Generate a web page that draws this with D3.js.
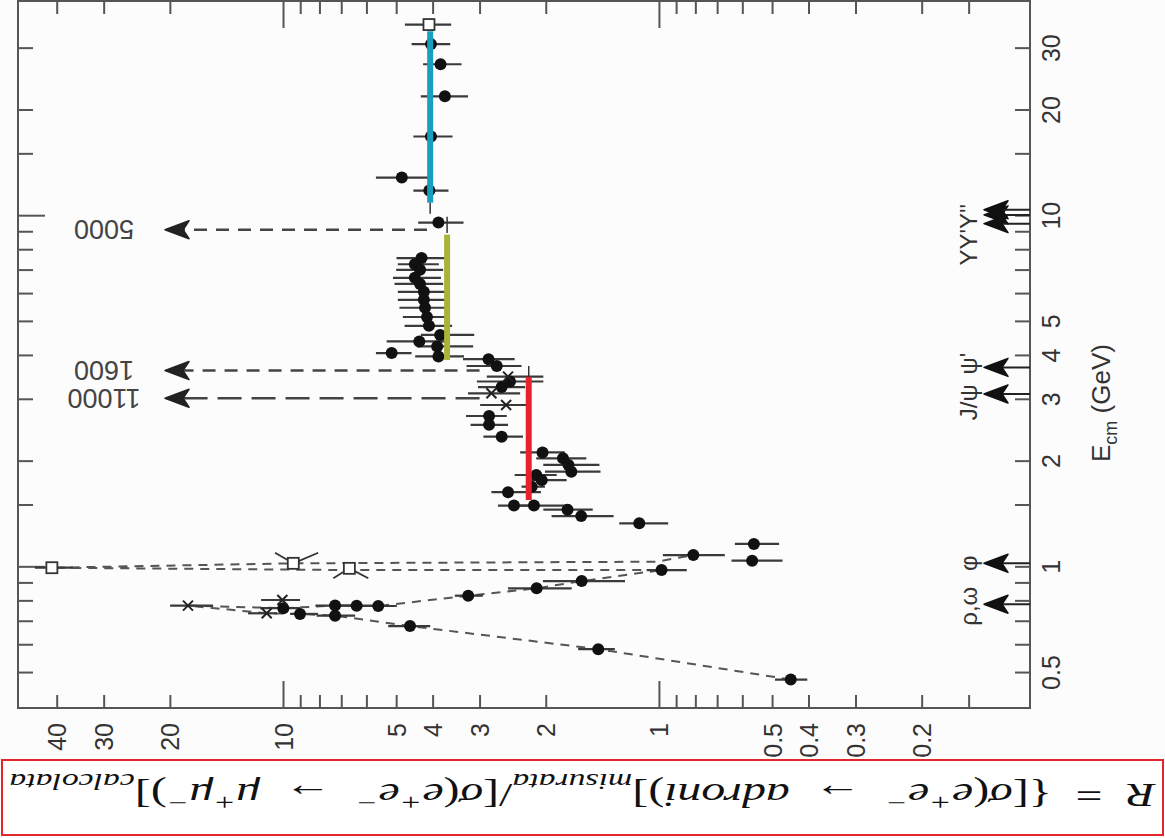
<!DOCTYPE html>
<html>
<head>
<meta charset="utf-8">
<script src="https://cdn.jsdelivr.net/npm/d3@7"></script>
<style>
  body { margin: 0; background: #fcfcfc; }
  text { font-family: "Liberation Sans", Arial, sans-serif; }
  text.formula { font-family: "Liberation Serif", "DejaVu Serif", serif; }
</style>
</head>
<body>
<script>
// ticks
const rTicks = [40, 30, 20, 10, 9, 8, 7, 6, 5, 4, 3, 2, 1, 0.9, 0.8, 0.7, 0.6, 0.5, 0.4, 0.3, 0.2, 0.15];
const rTickLabels = [40, 30, 20, 10, 5, 4, 3, 2, 1, 0.5, 0.4, 0.3, 0.2];
const eTicks = [0.5, 0.6, 0.7, 0.8, 0.9, 1, 1.5, 2, 3, 4, 5, 6, 7, 8, 9, 10, 15, 20, 30];
const eTickLabels = [0.5, 1, 2, 3, 4, 5, 10, 20, 30];
const majorTicks = [1, 10];

// filled circles: energy (GeV), R, error bar ends
const dotE = [30.7, 26.9, 21.8, 16.75, 12.8, 11.75, 9.53,
  7.55, 7.25, 6.99, 6.63, 6.37, 6.05, 5.74, 5.45, 5.13, 4.84, 4.56, 4.37, 4.23, 4.05, 3.96,
  3.89, 3.72, 3.36, 3.24, 2.68, 2.53, 2.34, 2.11, 2.03, 1.944, 1.86, 1.82, 1.76, 1.686, 1.626, 1.49, 1.49, 1.45, 1.39, 1.326,
  1.158, 1.077, 1.038, 0.976, 0.908, 0.866, 0.825, 0.771, 0.7727, 0.773, 0.760, 0.732, 0.7235, 0.676, 0.581, 0.476];
const dotR = [4.04, 3.81, 3.71, 4.04, 4.83, 4.08, 3.86,
  4.28, 4.46, 4.32, 4.46, 4.32, 4.22, 4.22, 4.19, 4.14, 4.09, 3.82, 4.34, 3.89, 5.14, 3.86,
  2.84, 2.70, 2.49, 2.62, 2.83, 2.83, 2.62, 2.04, 1.80, 1.74, 1.71, 2.12, 2.05, 2.18, 2.52, 2.43, 2.15, 1.75, 1.61, 1.128,
  0.559, 0.81, 0.565, 0.984, 1.605, 2.115, 3.216, 5.58, 6.37, 7.27, 9.98, 9.01, 7.27, 4.594, 1.45, 0.446];
const dotRMax = [4.55, 4.24, 4.30, 4.50, 5.66, 4.50, 4.37,
  4.99, 4.95, 5.0, 5.1, 5.05, 4.95, 4.95, 4.9, 4.8, 4.75, 4.3, 5.3, 4.4, 5.66, 4.45,
  3.32, 3.25, 3.05, 3.03, 3.26, 3.17, 2.93, 2.34, 2.12, 2.03, 2.01, 2.42, 2.25, 2.32, 2.79, 2.68, 2.34, 2.03, 1.93, 1.275,
  0.628, 0.976, 0.641, 1.078, 2.035, 2.52, 3.49, 6.24, 7.14, 8.2, 11.5, 9.57, 8.14, 5.25, 1.64, 0.491];
const dotRMin = [3.59, 3.35, 3.22, 3.54, 4.11, 3.63, 3.31,
  3.71, 3.85, 3.75, 3.8, 3.75, 3.7, 3.65, 3.7, 3.6, 3.55, 3.1, 3.7, 3.12, 4.55, 3.3,
  2.42, 2.32, 2.03, 2.27, 2.54, 2.52, 2.30, 1.78, 1.56, 1.44, 1.43, 1.87, 1.76, 2.01, 2.06, 2.16, 1.72, 1.50, 1.32, 0.945,
  0.479, 0.668, 0.469, 0.843, 1.231, 1.706, 2.94, 4.98, 5.57, 6.55, 9.0, 8.07, 6.43, 4.06, 1.31, 0.403];

// crosses
const crossE = [3.47, 3.11, 2.88, 0.802, 0.773, 0.735];
const crossR = [2.52, 2.79, 2.55, 10.04, 17.9, 11.05];
const crossRMax = [2.87, 3.22, 2.99, 11.44, 19.97, 12.39];
const crossRMin = [2.03, 2.34, 2.25, 9.01, 15.36, 10.38];

// open squares
const squareE = [34.9, 0.991, 1.020, 0.987];
const squareR = [4.09, 41.2, 9.39, 6.66];
const squareRMax = [4.74, 45.7, null, null];
const squareRMin = [3.57, 36.2, null, null];

// slanted bars on the phi squares
const wingE = [1.020, 0.987];
const wingR = [9.39, 6.66];
const wingTipE = [1.093, 0.925];
const wingTipRLeft = [10.5, 7.35];
const wingTipRRight = [8.06, 5.93];

// dashed resonance curve (rho, omega, phi)
const curveE = [0.476, 0.581, 0.676, 0.7235, 0.732, 0.735, 0.773, 0.760, 0.773, 0.771, 0.825, 0.866, 0.908, 0.976, 0.976, 0.991, 1.020, 1.031, 1.077];
const curveR = [0.446, 1.45, 4.594, 7.27, 9.01, 11.05, 17.9, 9.98, 7.27, 5.58, 3.216, 2.115, 1.605, 0.984, 6.66, 41.2, 9.39, 1.012, 0.81];

// off-scale peaks
const peakE = [9.09, 3.61, 3.01];
const peakLabels = ["5000", "1600", "11000"];
const peakFromR = [4.14, 3.0, 3.0];
const peakTipR = [20.6, 20.6, 20.6];

// parton model levels
const levelR = [4.06, 3.66, 2.22];
const levelELow = [10.85, 3.87, 1.545];
const levelEHigh = [33.4, 8.8, 3.46];
const levelColors = ["#1b9dbf", "#a9b23a", "#e8212a"];
// thin stubs of the underlying theory lines
const stubR = [4.06, 3.66, 2.22];
const stubELow = [10.1, 8.9, 3.46];
const stubEHigh = [10.85, 9.9, 3.72];

// resonance markers
const resonanceE = [0.78, 1.02, 3.097, 3.686, 9.46, 10.02, 10.36];
const resonanceLabels = ["ρ,ω", "φ", "J/ψ", "ψ'", "ΥΥ'Υ''"];
const resonanceLabelE = [0.77, 1.02, 2.93, 3.78, 8.8];

const width = 1165, height = 838;
const svg = d3.select("body").append("svg")
    .attr("width", width)
    .attr("height", height);

svg.append("rect").attr("width", width).attr("height", height).attr("fill", "#fcfcfc");

const x = d3.scaleLog().domain([50.7, 0.103]).range([18, 1030]);
const y = d3.scaleLog().domain([0.395, 41]).range([708, 0]);

const axisColor = "#555";

//axes (ticks on all four sides, pointing in)

function styleAxis(g) {
  g.select(".domain").remove();
  g.selectAll(".tick line").attr("stroke", axisColor).attr("stroke-width", 2);
  return g;
}

let axisB = svg.append("g").attr("transform", "translate(0,708)")
  .call(d3.axisBottom(x).tickValues(rTicks).tickSizeInner(-13).tickSizeOuter(0)
    .tickFormat(d => rTickLabels.includes(d) ? String(d) : ""));
styleAxis(axisB);
axisB.selectAll(".tick line").filter(d => majorTicks.includes(d)).attr("y2", -27);
axisB.selectAll(".tick text")
  .attr("transform", "rotate(-90)")
  .attr("x", -15).attr("y", 0).attr("dy", "0.36em")
  .attr("text-anchor", "end")
  .attr("font-size", 25)
  .attr("fill", "#333");

let axisT = svg.append("g").attr("transform", "translate(0,1)")
  .call(d3.axisTop(x).tickValues(rTicks).tickSizeInner(-13).tickSizeOuter(0).tickFormat(""));
styleAxis(axisT);
axisT.selectAll(".tick line").filter(d => majorTicks.includes(d)).attr("y2", 27);

let axisR = svg.append("g").attr("transform", "translate(1030,0)")
  .call(d3.axisRight(y).tickValues(eTicks).tickSizeInner(-15).tickSizeOuter(0)
    .tickFormat(d => eTickLabels.includes(d) ? String(d) : ""));
styleAxis(axisR);
axisR.selectAll(".tick text")
  .attr("transform", "rotate(-90)")
  .attr("x", 0).attr("y", 30).attr("dy", 0)
  .attr("text-anchor", "middle")
  .attr("font-size", 25)
  .attr("fill", "#333");

let axisL = svg.append("g").attr("transform", "translate(18,0)")
  .call(d3.axisLeft(y).tickValues(eTicks).tickSizeInner(-15).tickSizeOuter(0).tickFormat(""));
styleAxis(axisL);
axisL.selectAll(".tick line").filter(d => majorTicks.includes(d)).attr("x2", 27);

//frame

svg.append("rect")
  .attr("x", 18).attr("y", 1)
  .attr("width", 1012).attr("height", 707)
  .attr("fill", "none")
  .attr("stroke", axisColor)
  .attr("stroke-width", 2);

//E axis title

let eTitle = svg.append("text")
  .attr("transform", "translate(1110,462) rotate(-90)")
  .attr("font-size", 26)
  .attr("fill", "#333");
eTitle.append("tspan").text("E");
eTitle.append("tspan").text("cm").attr("font-size", 18).attr("dy", 7);
eTitle.append("tspan").text(" (GeV)").attr("dy", -7).style("white-space", "pre");

//dashed curve

let curve = curveE.map((e, i) => ({ e: e, r: curveR[i] }));
svg.append("path")
  .datum(curve)
  .attr("d", d3.line().x(d => x(d.r)).y(d => y(d.e)))
  .attr("fill", "none")
  .attr("stroke", "#555")
  .attr("stroke-width", 2)
  .attr("stroke-dasharray", "9,7");

//error bars

function errBars(cls, es, rmax, rmin) {
  svg.selectAll("line." + cls)
    .data(es.map((e, i) => ({ e: e, a: rmax[i], b: rmin[i] })).filter(d => d.a != null))
    .enter()
    .append("line")
    .attr("class", cls)
    .attr("x1", d => x(d.a))
    .attr("x2", d => x(d.b))
    .attr("y1", d => y(d.e))
    .attr("y2", d => y(d.e))
    .attr("stroke", "#3a3a3a")
    .attr("stroke-width", 2.2);
}
errBars("errdot", dotE, dotRMax, dotRMin);
errBars("errcross", crossE, crossRMax, crossRMin);
errBars("errsq", squareE, squareRMax, squareRMin);

//slanted bars on phi squares

wingE.forEach((e, i) => {
  [wingTipRLeft[i], wingTipRRight[i]].forEach(r => {
    svg.append("line")
      .attr("x1", x(wingR[i])).attr("y1", y(e))
      .attr("x2", x(r)).attr("y2", y(wingTipE[i]))
      .attr("stroke", "#333").attr("stroke-width", 1.8);
  });
});

//off-scale peak arrows

const arrowHead = "M0,0L24,-9L18,0L24,9Z";
const peakDash = ["13,9", "13,9", "24,10"];

peakE.forEach((e, i) => {
  svg.append("line")
    .attr("x1", x(peakFromR[i])).attr("x2", x(peakTipR[i]) + 16)
    .attr("y1", y(e)).attr("y2", y(e))
    .attr("stroke", "#444").attr("stroke-width", 2.5)
    .attr("stroke-dasharray", peakDash[i]);
  svg.append("path")
    .attr("d", arrowHead)
    .attr("transform", `translate(${x(peakTipR[i])},${y(e)})`)
    .attr("fill", "#222")
    .attr("stroke", "#222")
    .attr("stroke-width", 1.5)
    .attr("stroke-linejoin", "round");
  svg.append("text")
    .attr("transform", `translate(${x(peakTipR[i]) - 61},${y(e)}) rotate(180)`)
    .attr("text-anchor", "middle")
    .attr("dy", "0.36em")
    .attr("font-size", 27)
    .attr("fill", "#444")
    .text(peakLabels[i]);
});

//markers

svg.selectAll("circle.dot")
  .data(dotE.map((e, i) => ({ e: e, r: dotR[i] })))
  .enter()
  .append("circle")
  .attr("class", "dot")
  .attr("cx", d => x(d.r))
  .attr("cy", d => y(d.e))
  .attr("r", 6)
  .attr("fill", "#111");

svg.selectAll("path.cross")
  .data(crossE.map((e, i) => ({ e: e, r: crossR[i] })))
  .enter()
  .append("path")
  .attr("class", "cross")
  .attr("d", "M-5,-5L5,5M-5,5L5,-5")
  .attr("transform", d => `translate(${x(d.r)},${y(d.e)})`)
  .attr("stroke", "#222")
  .attr("stroke-width", 2);

svg.selectAll("rect.sq")
  .data(squareE.map((e, i) => ({ e: e, r: squareR[i] })))
  .enter()
  .append("rect")
  .attr("class", "sq")
  .attr("x", d => x(d.r) - 5.5)
  .attr("y", d => y(d.e) - 5.5)
  .attr("width", 11)
  .attr("height", 11)
  .attr("fill", "#fff")
  .attr("stroke", "#333")
  .attr("stroke-width", 1.8);

//R levels

stubR.forEach((r, i) => {
  svg.append("line")
    .attr("x1", x(r)).attr("x2", x(r))
    .attr("y1", y(stubEHigh[i])).attr("y2", y(stubELow[i]))
    .attr("stroke", "#333")
    .attr("stroke-width", 1.5);
});

levelR.forEach((r, i) => {
  svg.append("line")
    .attr("x1", x(r)).attr("x2", x(r))
    .attr("y1", y(levelEHigh[i])).attr("y2", y(levelELow[i]))
    .attr("stroke", levelColors[i])
    .attr("stroke-width", 6);
});

//resonance arrows at right edge

resonanceE.forEach(e => {
  svg.append("line")
    .attr("x1", 1030).attr("x2", 995)
    .attr("y1", y(e)).attr("y2", y(e))
    .attr("stroke", "#222").attr("stroke-width", 2);
  svg.append("path")
    .attr("d", arrowHead)
    .attr("transform", `translate(984,${y(e)})`)
    .attr("fill", "#111")
    .attr("stroke", "#111")
    .attr("stroke-width", 1.5)
    .attr("stroke-linejoin", "round");
});

resonanceLabels.forEach((t, i) => {
  svg.append("text")
    .attr("transform", `translate(977,${y(resonanceLabelE[i])}) rotate(-90)`)
    .attr("text-anchor", "middle")
    .attr("font-size", 24)
    .attr("fill", "#333")
    .text(t);
});

//formula box (upside down)

svg.append("rect")
  .attr("x", 2).attr("y", 760)
  .attr("width", 1161).attr("height", 75)
  .attr("fill", "#fff")
  .attr("stroke", "#e3262c")
  .attr("stroke-width", 2);

const formulaParts = [
  ["R", "it"], ["  =  ", "up"], ["{[", "up"], ["σ", "it"], ["(", "up"], ["e", "it"], ["+", "sup"], ["e", "it"], ["−", "sup"],
  ["  →  ", "up"], ["adroni", "it"], [")]", "up"], ["misurata", "sub"], ["/[", "up"], ["σ", "it"], ["(", "up"],
  ["e", "it"], ["+", "sup"], ["e", "it"], ["−", "sup"], ["  →  ", "up"], ["μ", "it"], ["+", "sup"], ["μ", "it"], ["−", "sup"],
  [")]", "up"], ["calcolata", "sub"]
];

let formula = svg.append("text")
  .attr("class", "formula")
  .attr("font-size", 34)
  .attr("fill", "#111")
  .style("white-space", "pre");

let shift = 0;
formulaParts.forEach(p => {
  let target = p[1] === "sup" ? -12 : p[1] === "sub" ? 9 : 0;
  let ts = formula.append("tspan").text(p[0]).attr("dy", target - shift);
  shift = target;
  if (p[1] !== "up") ts.attr("font-style", "italic");
  if (p[1] === "sup" || p[1] === "sub") ts.attr("font-size", 24);
});

let bb = formula.node().getBBox();
let sx = 1148 / bb.width;
formula.attr("transform",
  `translate(583,793) rotate(180) scale(${sx},1) translate(${-(bb.x + bb.width / 2)},${-(bb.y + bb.height / 2)})`);
</script>
</body>
</html>
